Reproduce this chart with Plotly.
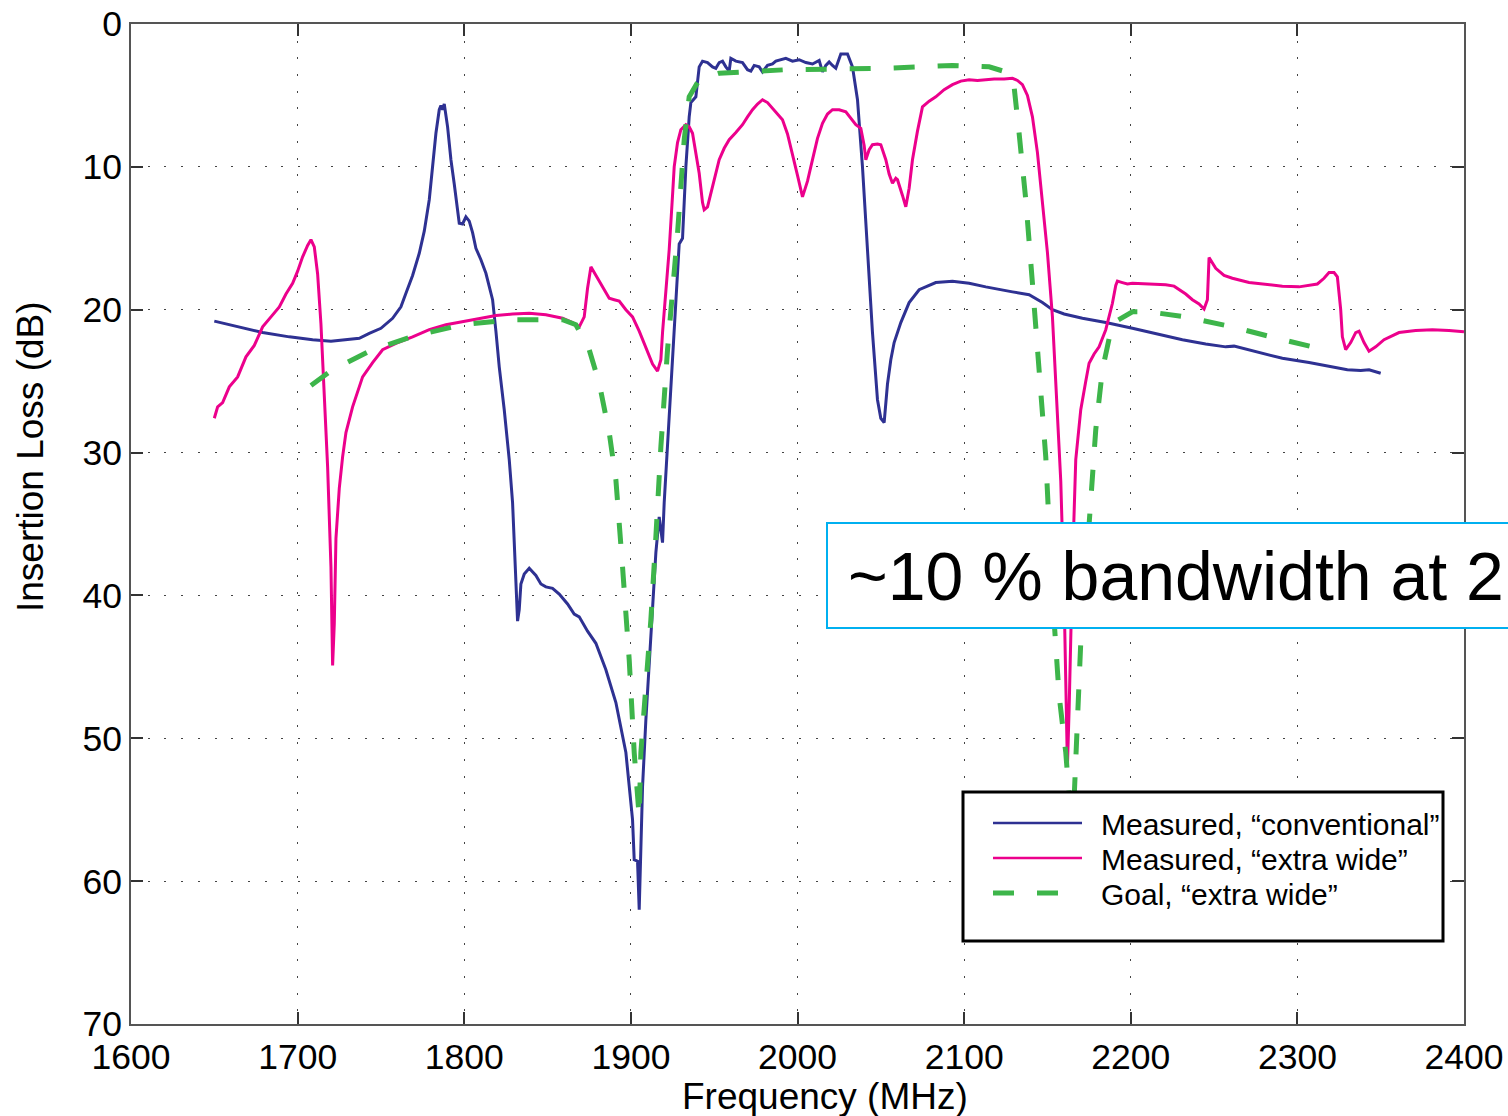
import plotly.graph_objects as go

# ---------------- data ----------------
conv_f = [1650, 1665, 1679, 1695, 1709, 1720, 1729, 1737, 1743, 1750, 1757, 1762, 1765, 1769, 1773,
          1776, 1779, 1781, 1783, 1785, 1786, 1787, 1788, 1790, 1792, 1794, 1796, 1797, 1799, 1801,
          1803, 1805, 1807, 1810, 1813, 1817, 1819, 1821, 1824, 1827, 1829, 1831, 1832, 1833, 1834,
          1836, 1839, 1843, 1846, 1849, 1853, 1857, 1862, 1866, 1869, 1874, 1879, 1885, 1891, 1897,
          1901, 1902, 1904, 1905, 1907, 1909, 1912, 1915, 1917, 1918, 1919, 1920, 1923, 1926, 1929,
          1931, 1933, 1935, 1936, 1939, 1941, 1943, 1946, 1949, 1951, 1953, 1955, 1957, 1959, 1960,
          1963, 1967, 1970, 1972, 1974, 1977, 1979, 1982, 1985, 1987, 1990, 1993, 1997, 2001, 2005,
          2009, 2013, 2015, 2017, 2019, 2021, 2023, 2026, 2030, 2033, 2036, 2039, 2042, 2045, 2048,
          2050, 2052, 2054, 2056, 2058, 2062, 2067, 2073, 2083, 2093, 2103, 2113, 2121, 2129, 2139,
          2147, 2153, 2160, 2171, 2185, 2201, 2216, 2231, 2245, 2257, 2262, 2275, 2291, 2307, 2322,
          2330, 2338, 2343, 2350]
conv_db = [20.8, 21.2, 21.6, 21.9, 22.1, 22.2, 22.1, 22.0, 21.65, 21.3, 20.6, 19.8, 18.85, 17.6, 16.05,
           14.5, 12.3, 10.0, 7.65, 6.0, 5.7, 6.0, 5.6, 7.2, 9.5, 11.2, 12.8, 13.95, 14.0, 13.5,
           13.8, 14.6, 15.7, 16.5, 17.45, 19.3, 21.5, 24.0, 27.0, 30.5, 33.5, 39.8, 41.8, 41.0, 39.2,
           38.5, 38.1, 38.6, 39.2, 39.4, 39.5, 39.9, 40.6, 41.3, 41.5, 42.5, 43.35, 45.2, 47.5, 51.0,
           55.7, 58.5, 58.6, 62.0, 53.4, 48.7, 42.9, 37.0, 34.5, 35.5, 36.3, 33.5, 27.5, 21.6, 15.4,
           15.0, 10.0, 6.5, 5.5, 5.1, 3.0, 2.6, 2.7, 3.0, 3.1, 2.7, 2.6, 3.0, 3.3, 2.4,
           2.6, 2.7, 3.2, 3.3, 2.9, 3.0, 3.35, 2.9, 2.8, 2.6, 2.5, 2.4, 2.6, 2.5, 2.7,
           2.8, 2.55, 3.35, 2.9, 2.65, 2.9, 3.1, 2.1, 2.1, 3.0, 5.3, 10.0, 15.8, 21.6, 26.3,
           27.6, 27.9, 25.2, 23.5, 22.3, 20.9, 19.5, 18.6, 18.1, 18.0, 18.15, 18.4, 18.55, 18.75, 18.95,
           19.5, 20.0, 20.3, 20.6, 20.9, 21.3, 21.7, 22.1, 22.4, 22.6, 22.55, 22.95, 23.4, 23.7, 24.0,
           24.2, 24.25, 24.2, 24.45]

wide_f = [1650, 1652, 1655, 1659, 1664, 1669, 1674, 1679, 1684, 1689, 1693, 1697, 1700, 1703, 1706,
          1708, 1710, 1712, 1714, 1716, 1718, 1720, 1721, 1722, 1723, 1725, 1727, 1729, 1733, 1739,
          1745, 1751, 1759, 1769, 1779, 1789, 1799, 1809, 1819, 1829, 1839, 1849, 1859, 1865, 1869,
          1872, 1874, 1876, 1878, 1881, 1884, 1887, 1890, 1893, 1897, 1901, 1905, 1909, 1913, 1916,
          1918, 1919, 1921, 1923, 1925, 1926, 1928, 1930, 1933, 1935, 1937, 1939, 1941, 1943, 1944,
          1946, 1947, 1950, 1953, 1956, 1959, 1963, 1967, 1970, 1973, 1976, 1979, 1982, 1986, 1991,
          1994, 1997, 2000, 2003, 2006, 2009, 2012, 2015, 2018, 2021, 2025, 2029, 2032, 2035, 2038,
          2040, 2041, 2043, 2045, 2048, 2050, 2053, 2055, 2057, 2059, 2060, 2063, 2065, 2067, 2069,
          2072, 2075, 2079, 2083, 2088, 2093, 2098, 2103, 2108, 2113, 2118, 2124, 2129, 2132, 2135,
          2138, 2141, 2144, 2147, 2150, 2153, 2156, 2158, 2160, 2162, 2163, 2165, 2167, 2170, 2173,
          2175, 2178, 2181, 2185, 2189, 2191, 2192, 2195, 2198, 2201, 2211, 2221, 2226, 2229, 2233,
          2237, 2241, 2244, 2246, 2247, 2249, 2251, 2256, 2261, 2271, 2281, 2291, 2301, 2312, 2316,
          2319, 2322, 2324, 2326, 2327, 2329, 2332, 2335, 2337, 2340, 2343, 2347, 2352, 2361, 2371,
          2381, 2391, 2400]
wide_db = [27.6, 26.8, 26.5, 25.4, 24.7, 23.3, 22.5, 21.2, 20.5, 19.8, 18.9, 18.15, 17.3, 16.3, 15.5,
           15.1, 15.6, 17.5, 21.0, 25.5, 31.0, 38.0, 44.9, 42.0, 36.0, 32.5, 30.3, 28.6, 26.8, 24.7,
           23.7, 22.8, 22.35, 21.9, 21.4, 21.05, 20.85, 20.6, 20.4, 20.3, 20.25, 20.35, 20.6, 20.9, 21.2,
           20.5, 18.5, 17.0, 17.4, 17.9, 18.6, 19.2, 19.3, 19.4, 20.0, 20.5, 21.5, 22.6, 23.8, 24.3,
           23.5, 21.6, 18.5, 15.8, 12.0, 10.0, 8.3, 7.4, 7.05, 7.2, 7.65, 9.0, 10.45, 12.5, 13.0,
           12.8, 12.3, 10.8, 9.5, 8.7, 8.1, 7.6, 7.05, 6.5, 6.0, 5.6, 5.3, 5.5, 6.0, 6.7,
           7.7, 9.05, 10.6, 12.1, 11.0, 9.5, 8.0, 6.95, 6.3, 6.0, 6.0, 6.15, 6.6, 7.05, 7.3,
           8.5, 9.5, 8.8, 8.45, 8.4, 8.45, 9.5, 10.5, 11.15, 10.8, 10.9, 12.0, 12.8, 11.5, 9.5,
           7.5, 5.8, 5.4, 5.1, 4.6, 4.25, 4.0, 3.9, 3.95, 3.9, 3.85, 3.85, 3.8, 3.95, 4.25,
           5.0, 6.5, 9.0, 12.3, 16.0, 20.5, 27.5, 32.0, 40.0, 52.0, 48.0, 38.0, 30.5, 27.0, 25.0,
           23.75, 23.1, 22.6, 21.4, 19.55, 18.3, 18.0, 18.1, 18.2, 18.15, 18.2, 18.25, 18.35, 18.6, 18.9,
           19.3, 19.6, 19.95, 19.3, 16.35, 16.7, 17.1, 17.6, 17.8, 18.1, 18.25, 18.35, 18.4, 18.2, 17.8,
           17.4, 17.4, 17.7, 20.0, 21.9, 22.8, 22.3, 21.6, 21.5, 22.3, 22.9, 22.6, 22.1, 21.6, 21.45,
           21.4, 21.45, 21.55]

goal_f = [1708, 1721, 1745, 1771, 1799, 1829, 1859, 1867, 1875, 1881, 1887, 1891, 1895, 1899, 1902,
          1904, 1905, 1906, 1909, 1912, 1915, 1918, 1922, 1928, 1932, 1935, 1941, 1953, 1993, 2053,
          2093, 2115, 2125, 2130, 2133, 2137, 2141, 2145, 2149, 2153, 2157, 2161, 2165, 2170, 2176,
          2179, 2183, 2189, 2201, 2211, 2233, 2261, 2291, 2320]
goal_db = [25.3, 24.2, 22.8, 21.8, 21.05, 20.7, 20.7, 21.05, 22.8, 25.15, 28.6, 31.9, 38.0, 44.5, 51.0,
           54.6, 55.5, 51.0, 46.85, 41.7, 35.9, 29.6, 22.8, 14.65, 8.1, 5.1, 3.9, 3.45, 3.2, 3.1,
           2.9, 3.0, 3.35, 4.4, 7.65, 12.3, 18.15, 24.0, 30.3, 40.0, 47.0, 51.0, 57.0, 43.3, 34.0,
           28.4, 24.2, 20.95, 20.15, 20.15, 20.5, 21.2, 22.1, 22.9]

x_ticks = [1600, 1700, 1800, 1900, 2000, 2100, 2200, 2300, 2400]
y_ticks = [0, 10, 20, 30, 40, 50, 60, 70]

names = ["Measured, \u201cconventional\u201d", "Measured, \u201cextra wide\u201d", "Goal, \u201cextra wide\u201d"]
colors = ["#2E3192", "#EC008C", "#3DB54A"]
x_title = "Frequency (MHz)"
y_title = "Insertion Loss (dB)"
note = "~10 % bandwidth at 2"

# ---------------- figure ----------------
FONT = "Liberation Sans, Arial, sans-serif"
W, H = 1508, 1116
ML, MR, MT, MB = 131, 44, 24, 92
PW, PH = W - ML - MR, H - MT - MB


def px_x(p):
    return (p - ML) / PW


def px_y(p):
    return (H - MB - p) / PH


GOAL_DASH = "21px,23px"

fig = go.Figure()
fig.add_trace(go.Scatter(x=conv_f, y=conv_db, mode="lines", name=names[0],
                         line=dict(color=colors[0], width=3)))
fig.add_trace(go.Scatter(x=wide_f, y=wide_db, mode="lines", name=names[1],
                         line=dict(color=colors[1], width=3)))
fig.add_trace(go.Scatter(x=goal_f, y=goal_db, mode="lines", name=names[2],
                         line=dict(color=colors[2], width=5, dash=GOAL_DASH)))

axis_common = dict(
    showline=True, linecolor="#555555", linewidth=2, mirror="ticks",
    ticks="inside", ticklen=12, tickwidth=2, tickcolor="#333333",
    showgrid=True, gridcolor="#444444", gridwidth=1.3, griddash="2px,14.7px",
    zeroline=False, automargin=False,
    tickfont=dict(family=FONT, size=35.5, color="black"),
)

fig.update_xaxes(range=[1600, 2400], tickvals=x_ticks, ticktext=[str(v) for v in x_ticks],
                 **axis_common)
fig.update_yaxes(range=[70, 0], tickvals=y_ticks, ticktext=[str(v) for v in y_ticks],
                 **axis_common)

# legend box drawn in the style of the original (framed, long line samples)
LG_L, LG_R, LG_T, LG_B = 963, 1443, 792, 941
row_y = [823, 858, 893]
shapes = [
    dict(type="rect", xref="paper", yref="paper",
         x0=px_x(827), x1=px_x(1530), y0=px_y(628), y1=px_y(523),
         line=dict(color="#00B0F0", width=2), fillcolor="white", layer="above"),
    dict(type="rect", xref="paper", yref="paper",
         x0=px_x(LG_L), x1=px_x(LG_R), y0=px_y(LG_B), y1=px_y(LG_T),
         line=dict(color="black", width=3), fillcolor="white", layer="above"),
]
annotations = [
    dict(text=note, xref="paper", yref="paper", x=px_x(846), y=px_y(576),
         xanchor="left", yanchor="middle", showarrow=False,
         font=dict(family=FONT, size=68, color="black")),
    dict(text=x_title, xref="paper", yref="paper", x=px_x(825), y=px_y(1096),
         xanchor="center", yanchor="middle", showarrow=False,
         font=dict(family=FONT, size=37, color="black")),
    dict(text=y_title, xref="paper", yref="paper", x=px_x(30), y=px_y(457),
         xanchor="center", yanchor="middle", showarrow=False, textangle=-90,
         font=dict(family=FONT, size=37, color="black")),
]
for i, (nm, col) in enumerate(zip(names, colors)):
    is_goal = i == 2
    shapes.append(dict(type="line", xref="paper", yref="paper",
                       x0=px_x(993), x1=px_x(1060 if is_goal else 1082),
                       y0=px_y(row_y[i]), y1=px_y(row_y[i]),
                       line=dict(color=col, width=5 if is_goal else 2.5,
                                 dash=GOAL_DASH if is_goal else "solid"),
                       layer="above"))
    annotations.append(dict(text=nm, xref="paper", yref="paper",
                            x=px_x(1099), y=px_y(row_y[i] + 1),
                            xanchor="left", yanchor="middle", showarrow=False,
                            font=dict(family=FONT, size=30, color="black")))

fig.update_layout(
    width=W, height=H,
    margin=dict(l=ML, r=MR, t=MT, b=MB, pad=0, autoexpand=False),
    paper_bgcolor="white", plot_bgcolor="white",
    font=dict(family=FONT, color="black"),
    showlegend=False,
    shapes=shapes,
    annotations=annotations,
)

fig.write_html("out.html")
